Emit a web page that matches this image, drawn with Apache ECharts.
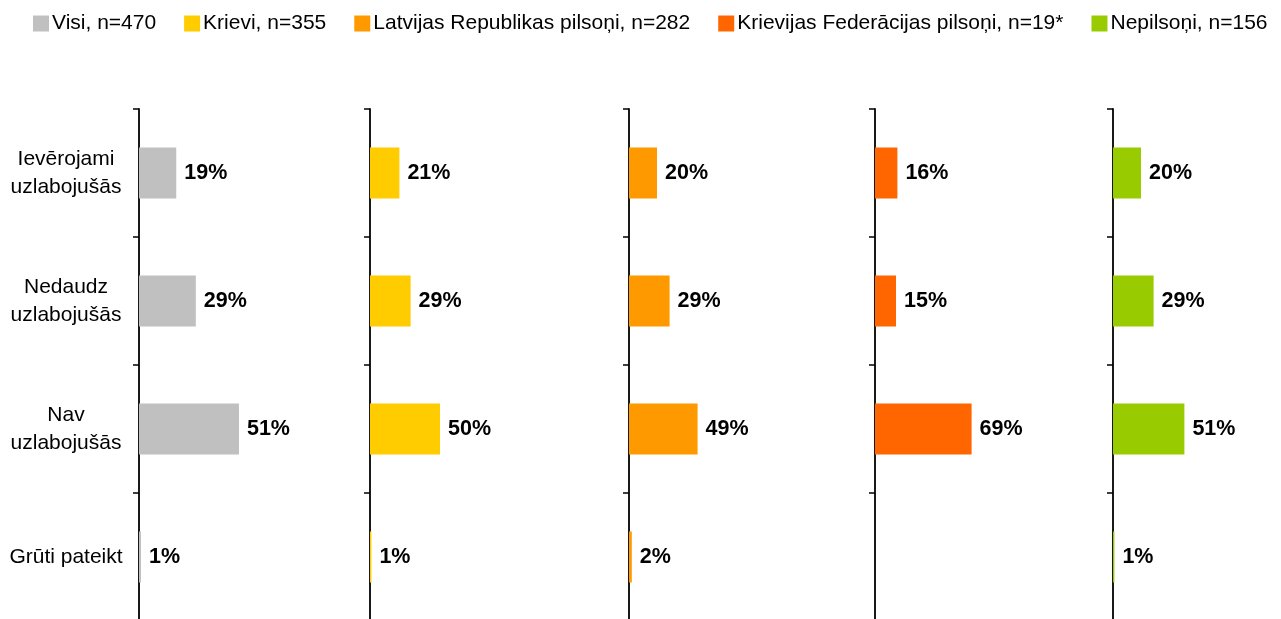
<!DOCTYPE html>
<html>
<head>
<meta charset="utf-8">
<script src="https://cdn.jsdelivr.net/npm/echarts@6/dist/echarts.min.js"></script>
<style>
  html, body { margin: 0; padding: 0; background: #fff; }
  #chart { width: 1281px; height: 619px; }
</style>
</head>
<body>
<div id="chart"></div>
<script>
// categories (top to bottom)
var categories = ['Ievērojami\nuzlabojušās', 'Nedaudz\nuzlabojušās', 'Nav\nuzlabojušās', 'Grūti pateikt'];

// one series per group
var groupNames = ['Visi, n=470', 'Krievi, n=355', 'Latvijas Republikas pilsoņi, n=282',
                  'Krievijas Federācijas pilsoņi, n=19*', 'Nepilsoņi, n=156'];
var visi       = [19, 29, 51, 1];
var krievi     = [21, 29, 50, 1];
var lrPilsoni  = [20, 29, 49, 2];
var kfPilsoni  = [16, 15, 69, null];
var nepilsoni  = [20, 29, 51, 1];
var groupValues = [visi, krievi, lrPilsoni, kfPilsoni, nepilsoni];

var colors = ['#C0C0C0', '#FFCC00', '#FF9900', '#FF6600', '#99CC00'];

// panel layout: left edge (axis) and pixel width of the 0..100 scale
var panelLeft  = [139, 370, 629, 875, 1113];
var panelWidth = [196, 140, 140, 140, 140];

var font = 'Liberation Sans, Arial, Helvetica, sans-serif';

var grids = [], xAxes = [], yAxes = [], series = [];
for (var i = 0; i < groupNames.length; i++) {
    // bottom edge falls just below the canvas, like the source
    grids.push({ left: panelLeft[i], top: 109, width: panelWidth[i], height: 512, outerBoundsMode: 'none' });
    xAxes.push({
        gridIndex: i, type: 'value', min: 0, max: 100,
        show: false
    });
    yAxes.push({
        gridIndex: i, type: 'category', inverse: true,
        data: categories,
        axisLine: { show: true, lineStyle: { color: '#000', width: 1.8 } },
        axisTick: { show: true, length: 6, lineStyle: { color: '#000', width: 1.5 } },
        axisLabel: {
            show: i === 0,
            align: 'center',
            margin: 73,
            color: '#000',
            fontFamily: font,
            fontSize: 21,
            lineHeight: 28
        },
        splitLine: { show: false }
    });
    series.push({
        name: groupNames[i],
        type: 'bar',
        xAxisIndex: i,
        yAxisIndex: i,
        data: groupValues[i],
        barWidth: 51,
        itemStyle: { color: colors[i] },
        label: {
            show: true,
            position: 'right',
            distance: 8,
            formatter: function (p) { return p.value == null ? '' : p.value + '%'; },
            color: '#000',
            fontFamily: font,
            fontWeight: 'bold',
            fontSize: 21.5
        },
        silent: true
    });
}

var option = {
    animation: false,
    backgroundColor: '#fff',
    color: colors,
    legend: {
        data: groupNames,
        top: 13,
        left: 33,
        padding: 0,
        itemWidth: 16,
        itemHeight: 16,
        itemGap: 28,
        icon: 'rect',
        textStyle: { fontFamily: font, fontSize: 21, color: '#000', padding: [0, 0, 0, -2] }
    },
    grid: grids,
    xAxis: xAxes,
    yAxis: yAxes,
    series: series
};

var chart = echarts.init(document.getElementById('chart'));
chart.setOption(option);
</script>
</body>
</html>
